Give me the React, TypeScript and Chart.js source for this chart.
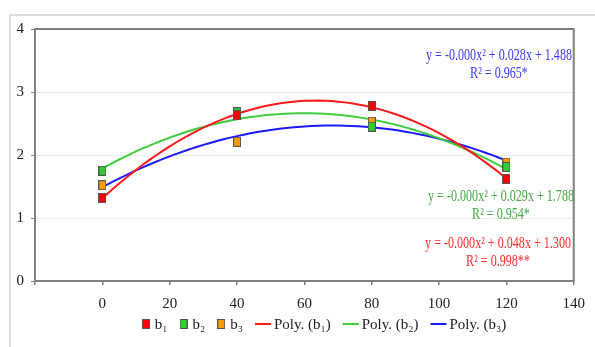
import React, { useEffect, useRef } from 'react';
import { Chart, registerables } from 'chart.js';

Chart.register(...registerables);

// ---- data ----
const doses = [0, 40, 80, 120];
const b1Values = [1.32, 2.63, 2.78, 1.62];
const b2Values = [1.75, 2.68, 2.45, 1.81];
const b3Values = [1.52, 2.21, 2.53, 1.88];
const seriesLabels = ['b\u2081', 'b\u2082', 'b\u2083'];
const trendLabels = ['Poly. (b\u2081)', 'Poly. (b\u2082)', 'Poly. (b\u2083)'];
const yTicks = [0, 1, 2, 3, 4];
const xTicks = [0, 20, 40, 60, 80, 100, 120, 140];
const eqB1 = ['y = -0.000x\u00B2 + 0.048x + 1.300', 'R\u00B2 = 0.998**'];
const eqB2 = ['y = -0.000x\u00B2 + 0.029x + 1.788', 'R\u00B2 = 0.954*'];
const eqB3 = ['y = -0.000x\u00B2 + 0.028x + 1.488', 'R\u00B2 = 0.965*'];

// ---- styles ----
const markerColors = ['#ff0000', '#33cc33', '#ff9900'];
const lineColors = ['#ff1a1a', '#3fcc3f', '#1a1aff'];
const textColors = ['#ff2a2a', '#45a845', '#3a3aff'];
const SERIF = '"Liberation Serif", "DejaVu Serif", serif';

// least-squares quadratic fit (Excel style polynomial trendline)
function quadFit(xs: number[], ys: number[]) {
  let s0 = 0, s1 = 0, s2 = 0, s3 = 0, s4 = 0, t0 = 0, t1 = 0, t2 = 0;
  for (let i = 0; i < xs.length; i++) {
    const x = xs[i], y = ys[i];
    s0 += 1; s1 += x; s2 += x * x; s3 += x * x * x; s4 += x * x * x * x;
    t0 += y; t1 += x * y; t2 += x * x * y;
  }
  const M = [
    [s4, s3, s2, t2],
    [s3, s2, s1, t1],
    [s2, s1, s0, t0],
  ];
  for (let c = 0; c < 3; c++) {
    let p = c;
    for (let r = c + 1; r < 3; r++) if (Math.abs(M[r][c]) > Math.abs(M[p][c])) p = r;
    [M[c], M[p]] = [M[p], M[c]];
    for (let r = 0; r < 3; r++) {
      if (r === c) continue;
      const f = M[r][c] / M[c][c];
      for (let k = c; k < 4; k++) M[r][k] -= f * M[c][k];
    }
  }
  return { a: M[0][3] / M[0][0], b: M[1][3] / M[1][1], c: M[2][3] / M[2][2] };
}

function trendPoints(ys: number[]) {
  const { a, b, c } = quadFit(doses, ys);
  const pts: { x: number; y: number }[] = [];
  const lo = doses[0], hi = doses[doses.length - 1];
  for (let x = lo; x <= hi; x += 2) pts.push({ x, y: a * x * x + b * x + c });
  return pts;
}

function makeMarker(color: string) {
  const cv = document.createElement('canvas');
  cv.width = 8;
  cv.height = 10;
  const g = cv.getContext('2d')!;
  g.fillStyle = color;
  g.fillRect(0, 0, 8, 10);
  g.strokeStyle = '#555555';
  g.lineWidth = 1;
  g.strokeRect(0.5, 0.5, 7, 9);
  return cv;
}

export default function App() {
  const ref = useRef<HTMLCanvasElement>(null);

  useEffect(() => {
    if (!ref.current) return;
    const series = [b1Values, b2Values, b3Values];
    const markers = markerColors.map(makeMarker);

    const scatterSets = series.map((vals, i) => ({
      type: 'scatter' as const,
      label: seriesLabels[i],
      data: doses.map((x, j) => ({ x, y: vals[j] })),
      pointStyle: markers[i],
      pointRadius: 5,
      showLine: false,
      order: 0,
    }));
    const trendSets = series.map((vals, i) => ({
      type: 'line' as const,
      label: trendLabels[i],
      data: trendPoints(vals),
      borderColor: lineColors[i],
      borderWidth: 2,
      pointRadius: 0,
      tension: 0,
      fill: false,
      order: 1,
    }));

    const equations = [eqB3, eqB2, eqB1];
    const eqColors = [textColors[2], textColors[1], textColors[0]];
    const eqCenters = [
      { x: 499, y: 56 },
      { x: 501, y: 197 },
      { x: 498, y: 244 },
    ];

    const framePlugin = {
      id: 'frame',
      beforeDraw(chart: any) {
        const ctx = chart.ctx;
        ctx.save();
        ctx.strokeStyle = '#d4d4d4';
        ctx.lineWidth = 1.5;
        ctx.beginPath();
        ctx.moveTo(10, chart.height);
        ctx.lineTo(10, 15);
        ctx.lineTo(chart.width, 15);
        ctx.stroke();
        ctx.restore();
      },
      afterDraw(chart: any) {
        const ctx = chart.ctx;
        const a = chart.chartArea;
        ctx.save();
        ctx.strokeStyle = '#808080';
        ctx.lineWidth = 2;
        ctx.beginPath();
        ctx.moveTo(a.left, a.top);
        ctx.lineTo(a.right, a.top);
        ctx.lineTo(a.right, a.bottom);
        ctx.stroke();

        // trendline equations (horizontally condensed like the original)
        ctx.textAlign = 'center';
        ctx.textBaseline = 'middle';
        ctx.font = `16px ${SERIF}`;
        equations.forEach((lines, i) => {
          ctx.fillStyle = eqColors[i];
          const c = eqCenters[i];
          const k = 146 / ctx.measureText(lines[0]).width;
          ctx.save();
          ctx.translate(c.x, c.y);
          ctx.scale(k, 1);
          ctx.fillText(lines[0], 0, 0);
          ctx.fillText(lines[1], 0, 18);
          ctx.restore();
        });

        // legend
        ctx.font = `15px ${SERIF}`;
        ctx.textAlign = 'left';
        ctx.fillStyle = '#222222';
        const items: { kind: 'box' | 'line'; idx: number; label: string }[] = [
          ...seriesLabels.map((l, i) => ({ kind: 'box' as const, idx: i, label: l })),
          ...trendLabels.map((l, i) => ({ kind: 'line' as const, idx: i, label: l })),
        ];
        const widths = items.map((it) =>
          (it.kind === 'box' ? 8 + 5 : 16 + 3) + ctx.measureText(it.label).width
        );
        const gap = 12;
        const total = widths.reduce((s, w) => s + w, 0) + gap * (items.length - 1);
        let x = 324 - total / 2;
        const y = 325;
        items.forEach((it, i) => {
          if (it.kind === 'box') {
            ctx.drawImage(markers[it.idx], x, y - 6);
            ctx.fillStyle = '#222222';
            ctx.fillText(it.label, x + 13, y);
          } else {
            ctx.strokeStyle = lineColors[it.idx];
            ctx.lineWidth = 2;
            ctx.beginPath();
            ctx.moveTo(x, y - 1);
            ctx.lineTo(x + 16, y - 1);
            ctx.stroke();
            ctx.fillStyle = '#222222';
            ctx.fillText(it.label, x + 19, y);
          }
          x += widths[i] + gap;
        });
        ctx.restore();
      },
    };

    const chart = new Chart(ref.current, {
      type: 'scatter',
      data: { datasets: [...scatterSets, ...trendSets] as any },
      options: {
        animation: false,
        responsive: false,
        maintainAspectRatio: false,
        layout: { padding: { top: 29, right: 11, bottom: 36, left: 0 } },
        plugins: {
          legend: { display: false },
          tooltip: { enabled: false },
        },
        scales: {
          x: {
            type: 'linear',
            min: -20,
            max: 140,
            afterFit: (s: any) => { s.height = 30; },
            afterBuildTicks: (s: any) => { s.ticks = [-20, ...xTicks].map((v) => ({ value: v })); },
            ticks: {
              stepSize: 20,
              padding: 10,
              color: '#222222',
              font: { family: SERIF, size: 15 },
              callback: (v: any) => (xTicks.includes(Number(v)) ? String(v) : ''),
              maxRotation: 0,
            },
            grid: {
              drawOnChartArea: false,
              drawTicks: true,
              tickLength: 4,
              tickColor: '#808080',
              lineWidth: 1.5,
            },
            border: { color: '#808080', width: 2 },
          },
          y: {
            type: 'linear',
            min: 0,
            max: 4,
            afterFit: (s: any) => { s.width = 35; },
            afterBuildTicks: (s: any) => { s.ticks = yTicks.map((v) => ({ value: v })); },
            ticks: {
              stepSize: 1,
              padding: 7,
              color: '#222222',
              font: { family: SERIF, size: 15 },
            },
            grid: {
              color: (c: any) => (c.tick && c.tick.value > 0 && c.tick.value < 4 ? '#ececec' : 'rgba(0,0,0,0)'),
              tickColor: '#808080',
              tickLength: 4,
              lineWidth: 1,
            },
            border: { color: '#808080', width: 2 },
          },
        },
      },
      plugins: [framePlugin],
    });
    return () => chart.destroy();
  }, []);

  return (
    <div style={{ position: 'absolute', left: 0, top: 0, width: 595, height: 347, background: '#fff' }}>
      <canvas ref={ref} width={595} height={347} style={{ width: 595, height: 347 }} />
    </div>
  );
}
